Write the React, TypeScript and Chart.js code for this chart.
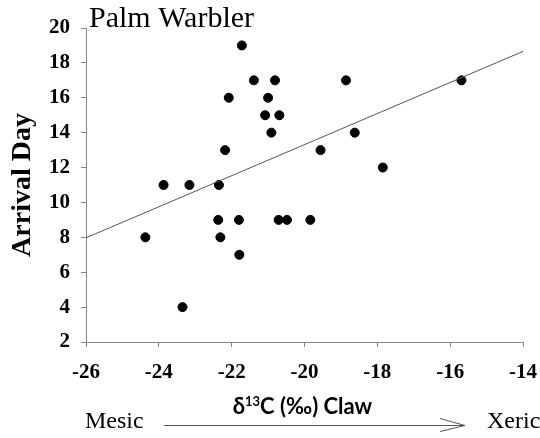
import { useEffect, useRef } from 'react';
import { Chart, registerables } from 'chart.js';

Chart.register(...registerables);

// δ13C (‰) claw values
const clawD13C = [
  -24.37, -23.87, -23.35, -23.16, -22.37, -22.35, -22.31, -22.18, -22.08, -21.8,
  -21.79, -21.72, -21.39, -21.08, -21.0, -20.91, -20.81, -20.71, -20.69, -20.48,
  -19.84, -19.56, -18.86, -18.62, -17.85, -15.69,
];
// Arrival day values
const arrivalDay = [
  8, 11, 4, 11, 9, 11, 8, 13, 16, 9,
  7, 19, 17, 15, 16, 14, 17, 9, 15, 9,
  9, 13, 17, 14, 12, 17,
];
// Regression line endpoints
const trendX = [-26, -14];
const trendY = [7.97, 18.66];

const xMin = -26;
const xMax = -14;
const yMin = 2;
const yMax = 20;
const tickStep = 2;

const SERIF = "'Liberation Serif', 'Times New Roman', serif";

const textPlugin = {
  id: 'extraTexts',
  afterDraw(chart: any) {
    const { ctx, chartArea } = chart;
    const { left, right, top, bottom } = chartArea;
    ctx.save();
    ctx.fillStyle = '#000';

    // Title
    ctx.font = `30px ${SERIF}`;
    ctx.textAlign = 'left';
    ctx.textBaseline = 'alphabetic';
    ctx.fillText('Palm Warbler', left + 3, top - 1);

    // Y title
    ctx.save();
    ctx.translate(23, (top + bottom) / 2);
    ctx.rotate(-Math.PI / 2);
    ctx.font = `bold 28px ${SERIF}`;
    ctx.textAlign = 'center';
    ctx.textBaseline = 'middle';
    ctx.fillText('Arrival Day', 0, 0);
    ctx.restore();

    // X title: δ13C (‰) Claw with superscript
    const base = 'bold 22px Lato, "Open Sans", sans-serif';
    const sup = 'bold 13px Lato, "Open Sans", sans-serif';
    const p1 = 'δ';
    const p2 = '13';
    const p3 = 'C (‰) Claw';
    ctx.font = base;
    const w1 = ctx.measureText(p1).width;
    const w3 = ctx.measureText(p3).width;
    ctx.font = sup;
    const w2 = ctx.measureText(p2).width;
    const total = w1 + w2 + w3;
    let x = (left + right) / 2 - total / 2 - 2;
    const by = 414;
    ctx.textAlign = 'left';
    ctx.textBaseline = 'alphabetic';
    ctx.font = base;
    ctx.fillText(p1, x, by);
    x += w1;
    ctx.font = sup;
    ctx.fillText(p2, x, by - 8);
    x += w2;
    ctx.font = base;
    ctx.fillText(p3, x, by);

    // Mesic / Xeric
    ctx.font = `24px ${SERIF}`;
    ctx.fillText('Mesic', 85, 428);
    ctx.fillText('Xeric', 487, 428);

    // Arrow
    ctx.strokeStyle = '#555';
    ctx.lineWidth = 1;
    ctx.beginPath();
    ctx.moveTo(164, 425.5);
    ctx.lineTo(465, 425.5);
    ctx.moveTo(440, 418.5);
    ctx.lineTo(465, 425.5);
    ctx.lineTo(440, 431.5);
    ctx.stroke();

    ctx.restore();
  },
};

export default function App() {
  const ref = useRef<HTMLCanvasElement | null>(null);

  useEffect(() => {
    if (!ref.current) return;
    const chart = new Chart(ref.current, {
      type: 'scatter',
      data: {
        datasets: [
          {
            type: 'line',
            data: trendX.map((v, i) => ({ x: v, y: trendY[i] })),
            borderColor: '#555',
            borderWidth: 1,
            pointRadius: 0,
            fill: false,
          } as any,
          {
            data: clawD13C.map((v, i) => ({ x: v, y: arrivalDay[i] })),
            backgroundColor: '#000',
            borderColor: '#000',
            pointRadius: 4.5,
            pointHoverRadius: 4.5,
          },
        ],
      },
      options: {
        animation: false,
        responsive: false,
        devicePixelRatio: 1,
        layout: { padding: { left: 0, right: 17, top: 28, bottom: 0 } },
        plugins: {
          legend: { display: false },
          tooltip: { enabled: false },
          title: { display: false },
        },
        scales: {
          x: {
            type: 'linear',
            min: xMin,
            max: xMax,
            ticks: {
              stepSize: tickStep,
              color: '#000',
              font: { family: SERIF, size: 21, weight: 'bold' },
              padding: 13,
            },
            grid: {
              drawOnChartArea: false,
              drawTicks: true,
              tickLength: 5,
              color: '#878787',
            },
            border: { display: true, color: '#878787' },
            afterFit: (s: any) => {
              s.height = 96;
              s.paddingLeft = 0;
              s.paddingRight = 0;
            },
          },
          y: {
            type: 'linear',
            min: yMin,
            max: yMax,
            ticks: {
              stepSize: tickStep,
              color: '#000',
              font: { family: SERIF, size: 21, weight: 'bold' },
              padding: 11,
            },
            grid: {
              drawOnChartArea: false,
              drawTicks: true,
              tickLength: 5,
              color: '#878787',
            },
            border: { display: true, color: '#878787' },
            afterFit: (s: any) => {
              s.width = 86;
              s.paddingTop = 0;
              s.paddingBottom = 0;
            },
          },
        },
      },
      plugins: [textPlugin],
    });
    return () => chart.destroy();
  }, []);

  return (
    <div style={{ position: 'absolute', left: 0, top: 0, width: 540, height: 438 }}>
      <canvas ref={ref} width={540} height={438} />
    </div>
  );
}
